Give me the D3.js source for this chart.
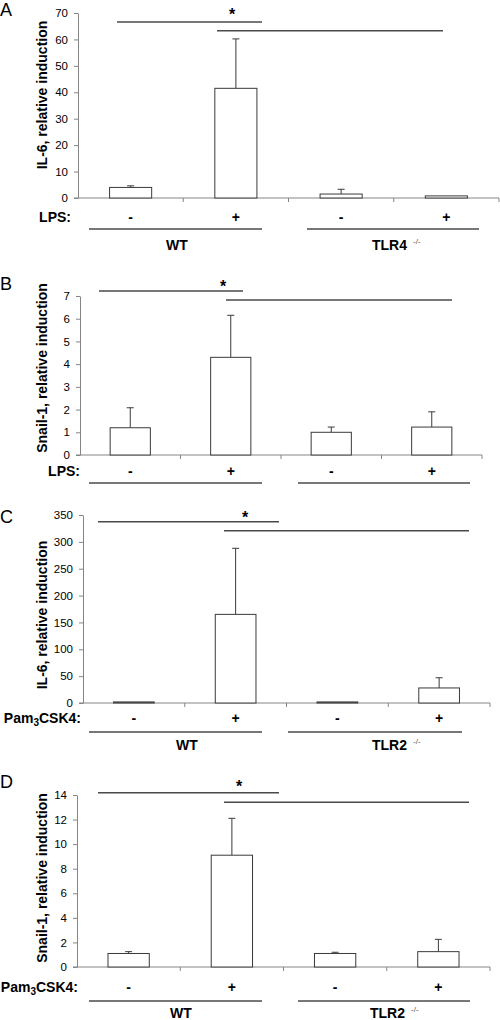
<!DOCTYPE html>
<html>
<head>
<meta charset="utf-8">
<script src="https://cdnjs.cloudflare.com/ajax/libs/d3/7.8.5/d3.min.js"></script>
<style>
  html, body { margin: 0; padding: 0; background: #fff; }
  svg { display: block; font-family: "Liberation Sans", Arial, sans-serif; }
</style>
</head>
<body>
<svg id="chart" width="500" height="1020"></svg>
<script>
// ---------------- DATA ----------------
const categories = ["-", "+", "-", "+"];
const panelLetters = ["A", "B", "C", "D"];
const yLabels = ["IL-6, relative induction", "Snail-1, relative induction",
                 "IL-6, relative induction", "Snail-1, relative induction"];
const treatments = ["LPS", "LPS", "Pam3CSK4", "Pam3CSK4"];
const groupNamesA = ["WT", "TLR4"];
const groupNamesB = [];
const groupNamesC = ["WT", "TLR2"];
const groupNamesD = ["WT", "TLR2"];
const knockoutSup = "-/-";
const sigMark = "*";

const valuesA = [4.0, 41.5, 1.5, 0.8];
const errorsA = [0.6, 18.7, 1.8, 0];
const valuesB = [1.2, 4.3, 1.0, 1.23];
const errorsB = [0.88, 1.85, 0.23, 0.67];
const valuesC = [2, 165, 2, 28];
const errorsC = [0, 123, 0, 19];
const valuesD = [1.1, 9.1, 1.1, 1.25];
const errorsD = [0.15, 3.0, 0.1, 1.0];

const yTicksA = [0, 10, 20, 30, 40, 50, 60, 70];
const yTicksB = [0, 1, 2, 3, 4, 5, 6, 7];
const yTicksC = [0, 50, 100, 150, 200, 250, 300, 350];
const yTicksD = [0, 2, 4, 6, 8, 10, 12, 14];

// ---------------- LAYOUT ----------------
const layout = [
  { x0: 78, x1: 499, yTop: 13, y0: 198, letterY: 16, labelX: 42, labelY: 95,
    star: [232, 15], sig: [[117, 262, 22], [217, 443, 30.7]],
    treatX: 71, treatY: 217, gLineY: 229, gLines: [[89, 262], [307, 479]],
    gLabelY: 245, gLabelX: [177, 372] },
  { x0: 80, x1: 482, yTop: 296, y0: 455, letterY: 290, labelX: 42, labelY: 368,
    star: [223, 287], sig: [[99, 243, 291], [226, 452, 300]],
    treatX: 80, treatY: 471, gLineY: 483, gLines: [[89, 262], [298, 470]],
    gLabelY: 0, gLabelX: [] },
  { x0: 83, x1: 490, yTop: 515, y0: 703, letterY: 523, labelX: 42, labelY: 615,
    star: [245, 518], sig: [[98, 279, 521.7], [224, 469, 530.7]],
    treatX: 81, treatY: 718, gLineY: 732, gLines: [[89, 262], [288, 462]],
    gLabelY: 745, gLabelX: [187, 372] },
  { x0: 77, x1: 490, yTop: 795, y0: 967, letterY: 788, labelX: 42, labelY: 878,
    star: [239, 787], sig: [[98, 279, 792.7], [224, 469, 802.3]],
    treatX: 78, treatY: 987, gLineY: 1001, gLines: [[89, 262], [298, 470]],
    gLabelY: 1013, gLabelX: [181, 370] }
];

const panels = [
  { values: valuesA, errors: errorsA, ticks: yTicksA, groups: groupNamesA },
  { values: valuesB, errors: errorsB, ticks: yTicksB, groups: groupNamesB },
  { values: valuesC, errors: errorsC, ticks: yTicksC, groups: groupNamesC },
  { values: valuesD, errors: errorsD, ticks: yTicksD, groups: groupNamesD }
];

const axisColor = "#858585";
const barStroke = "#3a3a3a";
const lineColor = "#4a4a4a";

const svg = d3.select("#chart");

panels.forEach((p, i) => {
  const L = layout[i];
  const g = svg.append("g");

  const x = d3.scaleBand().domain(d3.range(categories.length))
    .range([L.x0, L.x1]).paddingInner(0.6).paddingOuter(0.3);
  const y = d3.scaleLinear().domain([0, d3.max(p.ticks)]).range([L.y0, L.yTop]);

  // panel letter
  g.append("text").attr("x", 0).attr("y", L.letterY)
    .attr("font-size", 18).attr("fill", "#000").text(panelLetters[i]);

  // y axis
  const yAxis = g.append("g").attr("transform", `translate(${L.x0},0)`)
    .call(d3.axisLeft(y).tickValues(p.ticks).tickFormat(d3.format("d"))
      .tickSize(4).tickPadding(6).tickSizeOuter(0));
  yAxis.select(".domain").attr("stroke", axisColor);
  yAxis.selectAll(".tick line").attr("stroke", axisColor);
  yAxis.selectAll(".tick text").attr("font-size", 11.5).attr("fill", "#000")
    .attr("font-family", "Liberation Sans, Arial, sans-serif");

  // x axis line with boundary ticks
  g.append("line").attr("x1", L.x0 - 4).attr("x2", L.x1).attr("y1", y(0)).attr("y2", y(0))
    .attr("stroke", axisColor);
  g.selectAll(".xt").data(d3.range(1, categories.length + 1)).enter().append("line")
    .attr("x1", k => L.x0 + k * x.step()).attr("x2", k => L.x0 + k * x.step())
    .attr("y1", y(0)).attr("y2", y(0) + 4).attr("stroke", axisColor);

  // error bars
  const idx = d3.range(categories.length);
  g.selectAll(".err").data(idx.filter(k => p.errors[k] > 0)).enter().append("line")
    .attr("x1", k => x(k) + x.bandwidth() / 2).attr("x2", k => x(k) + x.bandwidth() / 2)
    .attr("y1", k => y(p.values[k])).attr("y2", k => y(p.values[k] + p.errors[k]))
    .attr("stroke", barStroke).attr("stroke-width", 1);
  g.selectAll(".cap").data(idx.filter(k => p.errors[k] > 0)).enter().append("line")
    .attr("x1", k => x(k) + x.bandwidth() / 2 - 3.5).attr("x2", k => x(k) + x.bandwidth() / 2 + 3.5)
    .attr("y1", k => y(p.values[k] + p.errors[k])).attr("y2", k => y(p.values[k] + p.errors[k]))
    .attr("stroke", barStroke).attr("stroke-width", 1);

  // bars
  g.selectAll(".bar").data(idx).enter().append("rect")
    .attr("x", k => x(k)).attr("width", x.bandwidth())
    .attr("y", k => y(p.values[k])).attr("height", k => y(0) - y(p.values[k]))
    .attr("fill", "#fff").attr("stroke", barStroke).attr("stroke-width", 1);

  // y label
  g.append("text")
    .attr("transform", `translate(${L.labelX},${L.labelY}) rotate(-90)`)
    .attr("text-anchor", "middle").attr("dominant-baseline", "central")
    .attr("font-size", 14).attr("font-weight", "bold").text(yLabels[i]);

  // significance
  L.sig.forEach(s => {
    g.append("line").attr("x1", s[0]).attr("x2", s[1]).attr("y1", s[2]).attr("y2", s[2])
      .attr("stroke", lineColor).attr("stroke-width", 1.5);
  });
  g.append("text").attr("x", L.star[0]).attr("y", L.star[1] + 5)
    .attr("text-anchor", "middle").attr("font-size", 16).attr("font-weight", "bold").text(sigMark);

  // treatment label
  const t = g.append("text").attr("x", L.treatX).attr("y", L.treatY + 5)
    .attr("text-anchor", "end").attr("font-size", 14).attr("font-weight", "bold");
  const tr = treatments[i];
  if (tr.startsWith("Pam3")) {
    t.append("tspan").text("Pam");
    t.append("tspan").attr("font-size", 10).attr("dy", 3).text("3");
    t.append("tspan").attr("dy", -3).text(tr.slice(4) + ":");
  } else {
    t.text(tr + ":");
  }

  // +/- signs
  g.selectAll(".sign").data(idx).enter().append("text")
    .attr("x", k => x(k) + x.bandwidth() / 2).attr("y", L.treatY + 5)
    .attr("text-anchor", "middle").attr("font-size", 14).attr("font-weight", "bold")
    .text(k => categories[k]);

  // group lines
  L.gLines.forEach(s => {
    g.append("line").attr("x1", s[0]).attr("x2", s[1]).attr("y1", L.gLineY).attr("y2", L.gLineY)
      .attr("stroke", lineColor).attr("stroke-width", 1.5);
  });

  // group labels
  p.groups.forEach((name, j) => {
    const tt = g.append("text").attr("x", L.gLabelX[j]).attr("y", L.gLabelY + 5)
      .attr("text-anchor", j === 0 ? "middle" : "start")
      .attr("font-size", 14).attr("font-weight", "bold");
    tt.append("tspan").text(name);
    if (j === 1) {
      tt.append("tspan").attr("font-size", 8).attr("font-weight", "normal")
        .attr("dx", 6).attr("dy", -6).attr("fill", "#555").text(knockoutSup);
    }
  });
});
</script>
</body>
</html>
